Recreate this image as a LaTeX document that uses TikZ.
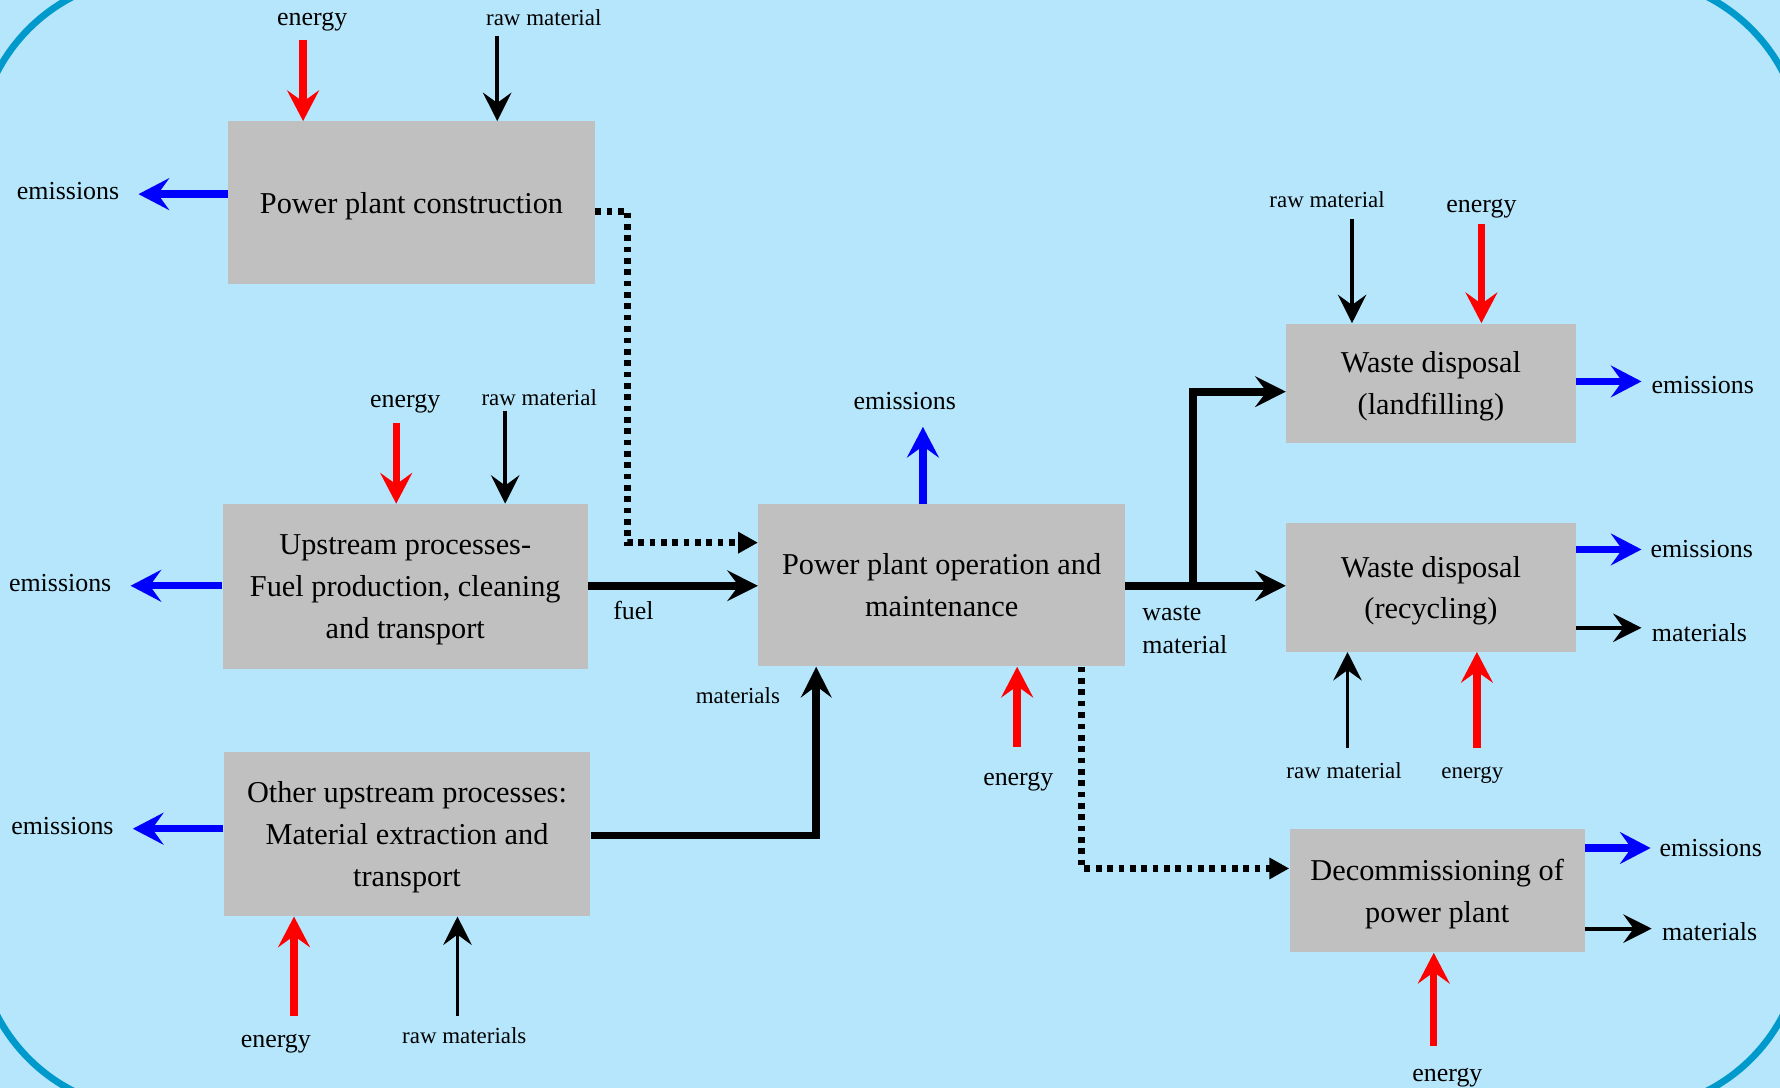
\documentclass[tikz,border=0pt]{standalone}
\usepackage{fontspec}
\setmainfont{Liberation Serif}
\usetikzlibrary{arrows.meta}
\definecolor{bgblue}{RGB}{182,230,251}
\definecolor{rimblue}{RGB}{0,153,204}
\definecolor{boxgray}{RGB}{192,192,192}

\begin{document}
\begin{tikzpicture}[x=0.02cm, y=-0.02cm,
	box/.style={fill=boxgray, inner sep=0pt, align=center, text depth=0pt, font=\fontsize{15.2}{21}\selectfont},
	lbl/.style={inner sep=0pt, text height=2ex, text depth=.25ex, font=\fontsize{13}{16.5}\selectfont},
	smlbl/.style={lbl, font=\fontsize{11.5}{14}\selectfont},
	enarr/.style={draw=red, line width=0.13cm, -{Stealth[length=0.54cm,width=0.56cm,inset=0.2cm]}},
	emarr/.style={draw=blue, line width=0.13cm, -{Stealth[length=0.54cm,width=0.56cm,inset=0.2cm]}},
	rawarr/.style={draw=black, line width=0.07cm, -{Stealth[length=0.5cm,width=0.5cm,inset=0.18cm]}},
	flowarr/.style={draw=black, line width=0.136cm, -{Stealth[length=0.54cm,width=0.54cm,inset=0.2cm]}},
	dotarr/.style={draw=black, line width=0.12cm, dash pattern=on 0.1cm off 0.1cm, -{Triangle[length=0.35cm,width=0.36cm]}}]
\useasboundingbox (0,0) rectangle (1568,958);
\fill[bgblue] (0,0) rectangle (1568,958);
\draw[rimblue, line width=0.12cm, rounded corners=3.1cm] (-20,-20) rectangle (1588,978);

\node[box, minimum width=6.46cm, minimum height=2.86cm] (constr) at (362.5,178.5) {Power plant construction};
\node[box, minimum width=6.44cm, minimum height=2.9cm] (upfuel) at (357,516.5) {Upstream processes-\\Fuel production, cleaning\\and transport};
\node[box, minimum width=6.46cm, minimum height=2.9cm] (upmat) at (358.5,734.5) {Other upstream processes:\\Material extraction and\\transport};
\node[box, minimum width=6.46cm, minimum height=2.86cm] (oper) at (829.5,515.5) {Power plant operation and\\maintenance};
\node[box, minimum width=5.1cm, minimum height=2.1cm] (landf) at (1260.5,337.5) {Waste disposal\\(landfilling)};
\node[box, minimum width=5.1cm, minimum height=2.26cm] (recyc) at (1260.5,517.5) {Waste disposal\\(recycling)};
\node[box, minimum width=5.2cm, minimum height=2.18cm] (decom) at (1266,784.5) {Decommissioning of\\power plant};

\node[lbl] (constrEnL) at (275,15) {energy};
\node[smlbl] (constrRawL) at (479,15) {raw material};
\node[lbl] (constrEmL) at (60,169) {emissions};
\node[lbl] (upfuelEnL) at (357,352) {energy};
\node[smlbl] (upfuelRawL) at (475,350) {raw material};
\node[lbl] (upfuelEmL) at (53,514) {emissions};
\node[lbl] (fuelL) at (558,539) {fuel};
\node[lbl] (upmatEmL) at (55,728) {emissions};
\node[lbl] (upmatEnL) at (243,916) {energy};
\node[smlbl] (upmatRawL) at (409,912) {raw materials};
\node[smlbl] (matL) at (650,613) {materials};
\node[lbl] (operEmL) at (797,354) {emissions};
\node[lbl] (operEnL) at (897,685) {energy};
\node[lbl, align=left, anchor=west, text height=, text depth=] (wasteL) at (1006,555) {waste\\material};
\node[smlbl] (landfRawL) at (1169,176) {raw material};
\node[lbl] (landfEnL) at (1305,180) {energy};
\node[lbl] (landfEmL) at (1500,340) {emissions};
\node[lbl] (recycEmL) at (1499,484) {emissions};
\node[lbl] (recycMatL) at (1497,558) {materials};
\node[smlbl] (recycRawL) at (1184,679) {raw material};
\node[smlbl] (recycEnL) at (1297,679) {energy};
\node[lbl] (decomEmL) at (1507,747) {emissions};
\node[lbl] (decomMatL) at (1506,821) {materials};
\node[lbl] (decomEnL) at (1275,946) {energy};

\coordinate (constrEn) at (267,35);
\coordinate (constrRaw) at (438,32);
\coordinate (constrEm) at (122,171);
\coordinate (upfuelEn) at (349,373);
\coordinate (upfuelRaw) at (445,362);
\coordinate (upfuelEm) at (115,516);
\coordinate (upmatEm) at (117,730);
\coordinate (upmatEn) at (259,895);
\coordinate (upmatRaw) at (403,895);
\coordinate (operEm) at (813,376);
\coordinate (operEn) at (896,658);
\coordinate (landfRaw) at (1191,193);
\coordinate (landfEn) at (1305,197);
\coordinate (landfEm) at (1446,336);
\coordinate (recycEm) at (1446,484);
\coordinate (recycMat) at (1446,553);
\coordinate (recycRaw) at (1187,659);
\coordinate (recycEn) at (1301,659);
\coordinate (decomEm) at (1454,747);
\coordinate (decomMat) at (1455,818);
\coordinate (decomEn) at (1263,921);
\coordinate (constrDotA) at (553,186);
\coordinate (constrDotB) at (553,478);
\coordinate (matBend) at (719,736);
\coordinate (wasteFork) at (1051,516);
\coordinate (wasteTop) at (1051,345);
\coordinate (operDot) at (953,765);

\draw[enarr] (constrEn) -- (constrEn |- constr.north);
\draw[rawarr] (constrRaw) -- (constrRaw |- constr.north);
\draw[emarr] (constr.west |- constrEm) -- (constrEm);
\draw[enarr] (upfuelEn) -- (upfuelEn |- upfuel.north);
\draw[rawarr] (upfuelRaw) -- (upfuelRaw |- upfuel.north);
\draw[emarr] (upfuel.west |- upfuelEm) -- (upfuelEm);
\draw[emarr] (upmat.west |- upmatEm) -- (upmatEm);
\draw[enarr] (upmatEn) -- (upmatEn |- upmat.south);
\draw[rawarr] (upmatRaw) -- (upmatRaw |- upmat.south);
\draw[emarr] (operEm |- oper.north) -- (operEm);
\draw[enarr] (operEn) -- (operEn |- oper.south);
\draw[rawarr] (landfRaw) -- (landfRaw |- landf.north);
\draw[enarr] (landfEn) -- (landfEn |- landf.north);
\draw[emarr] (landf.east |- landfEm) -- (landfEm);
\draw[emarr] (recyc.east |- recycEm) -- (recycEm);
\draw[rawarr] (recyc.east |- recycMat) -- (recycMat);
\draw[rawarr] (recycRaw) -- (recycRaw |- recyc.south);
\draw[enarr] (recycEn) -- (recycEn |- recyc.south);
\draw[emarr] (decom.east |- decomEm) -- (decomEm);
\draw[rawarr] (decom.east |- decomMat) -- (decomMat);
\draw[enarr] (decomEn) -- (decomEn |- decom.south);

\draw[dotarr] (constr.east |- constrDotA) -- (constrDotA) -- (constrDotB) -- (oper.west |- constrDotB);
\draw[flowarr] (upfuel.east |- wasteFork) -- (oper.west |- wasteFork);
\draw[flowarr] (upmat.east |- matBend) -- (matBend) -- (matBend |- oper.south);
\draw[flowarr] (oper.east |- wasteFork) -- (recyc.west |- wasteFork);
\draw[flowarr] (wasteFork) -- (wasteTop) -- (landf.west |- wasteTop);
\draw[dotarr] (operDot |- oper.south) -- (operDot) -- (decom.west |- operDot);
\end{tikzpicture}
\end{document}
